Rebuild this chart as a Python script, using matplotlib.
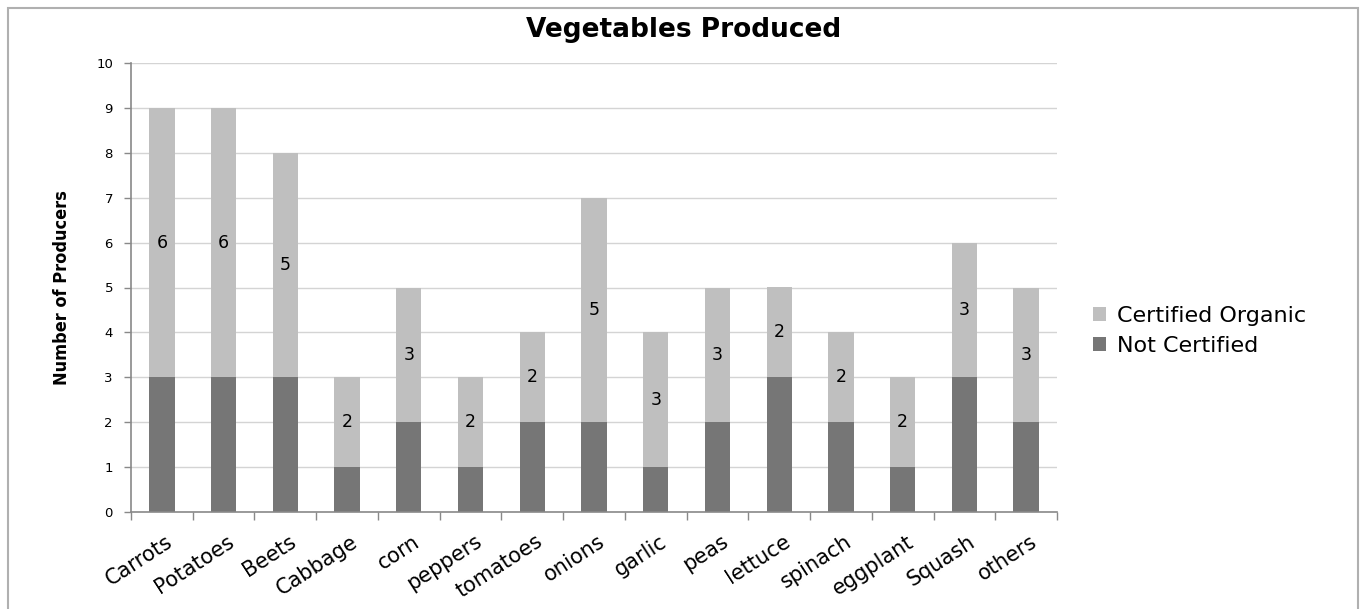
import matplotlib
matplotlib.use("Agg")
import matplotlib.pyplot as plt
from matplotlib.patches import Rectangle
from matplotlib.transforms import ScaledTranslation
import numpy as np

categories = ["Carrots", "Potatoes", "Beets", "Cabbage", "corn", "peppers",
              "tomatoes", "onions", "garlic", "peas", "lettuce", "spinach",
              "eggplant", "Squash", "others"]
not_certified = [3, 3, 3, 1, 2, 1, 2, 2, 1, 2, 3, 2, 1, 3, 2]
certified_organic = [6, 6, 5, 2, 3, 2, 2, 5, 3, 3, 2, 2, 2, 3, 3]
y_ticks = list(range(0, 11))

DARK = "#767676"
LIGHT = "#bfbfbf"
AXIS = "#898989"
GRID = "#d4d4d4"
FONT = "DejaVu Sans"

fig = plt.figure(figsize=(13.63, 6.09), dpi=100)
ax = fig.add_axes([131 / 1363, 1 - 512 / 609, (1057 - 131) / 1363, (512 - 63) / 609])

# outer chart frame
fig.patches.append(Rectangle((8 / 1363, -0.01), (1358 - 8) / 1363, 1 - 8 / 609 + 0.01,
                             transform=fig.transFigure, fill=False,
                             edgecolor="#b0b0b0", linewidth=1.5))

x = np.arange(len(categories))
w = 0.41
bars_not = ax.bar(x, not_certified, width=w, color=DARK, label="Not Certified", zorder=2)
bars_org = ax.bar(x, certified_organic, width=w, bottom=not_certified, color=LIGHT,
                  label="Certified Organic", zorder=2)

for xi, base, val in zip(x, not_certified, certified_organic):
    ax.text(xi, base + val / 2, str(val), ha="center", va="center",
            fontsize=12.5, family=FONT, color="black", zorder=3)

ax.set_xlim(-0.5, len(categories) - 0.5)
ax.set_ylim(0, 10)
ax.set_yticks(y_ticks)
ax.set_yticklabels([str(t) for t in y_ticks], fontsize=9.5, family=FONT)
ax.yaxis.grid(True, color=GRID, linewidth=1, zorder=0)
ax.set_axisbelow(True)

ax.set_xticks(x)
ax.set_xticklabels(categories, rotation=33, ha="right", va="center",
                   rotation_mode="anchor", fontsize=15, family=FONT)
ax.tick_params(axis="x", length=0, pad=20)
shift = ScaledTranslation(9 / 100, 0, fig.dpi_scale_trans)
for lbl in ax.get_xticklabels():
    lbl.set_transform(lbl.get_transform() + shift)
# tick marks between categories
ax.set_xticks(np.arange(-0.5, len(categories)), minor=True)
ax.tick_params(axis="x", which="minor", length=6, color=AXIS, width=1)
ax.tick_params(axis="y", length=5, color=AXIS, width=1, pad=8)

for side in ["top", "right"]:
    ax.spines[side].set_visible(False)
for side in ["left", "bottom"]:
    ax.spines[side].set_color(AXIS)
    ax.spines[side].set_linewidth(1.2)

ax.set_ylabel("Number of Producers", fontsize=13, fontweight="bold",
              fontstretch="condensed",
              family=["Liberation Sans Narrow", "DejaVu Sans"], labelpad=18)

fig.text(684 / 1363, 1 - 30 / 609, "Vegetables Produced", ha="center", va="center",
         fontsize=19, fontweight="bold", family=FONT)

leg = fig.legend([bars_org, bars_not], ["Certified Organic", "Not Certified"],
                 loc="center left", bbox_to_anchor=(1073 / 1363, 1 - 331 / 609),
                 frameon=False, prop={"family": FONT, "size": 16},
                 handlelength=0.6, handleheight=0.6, handletextpad=0.5,
                 labelspacing=0.45)

fig.savefig("out.png", dpi=100)
